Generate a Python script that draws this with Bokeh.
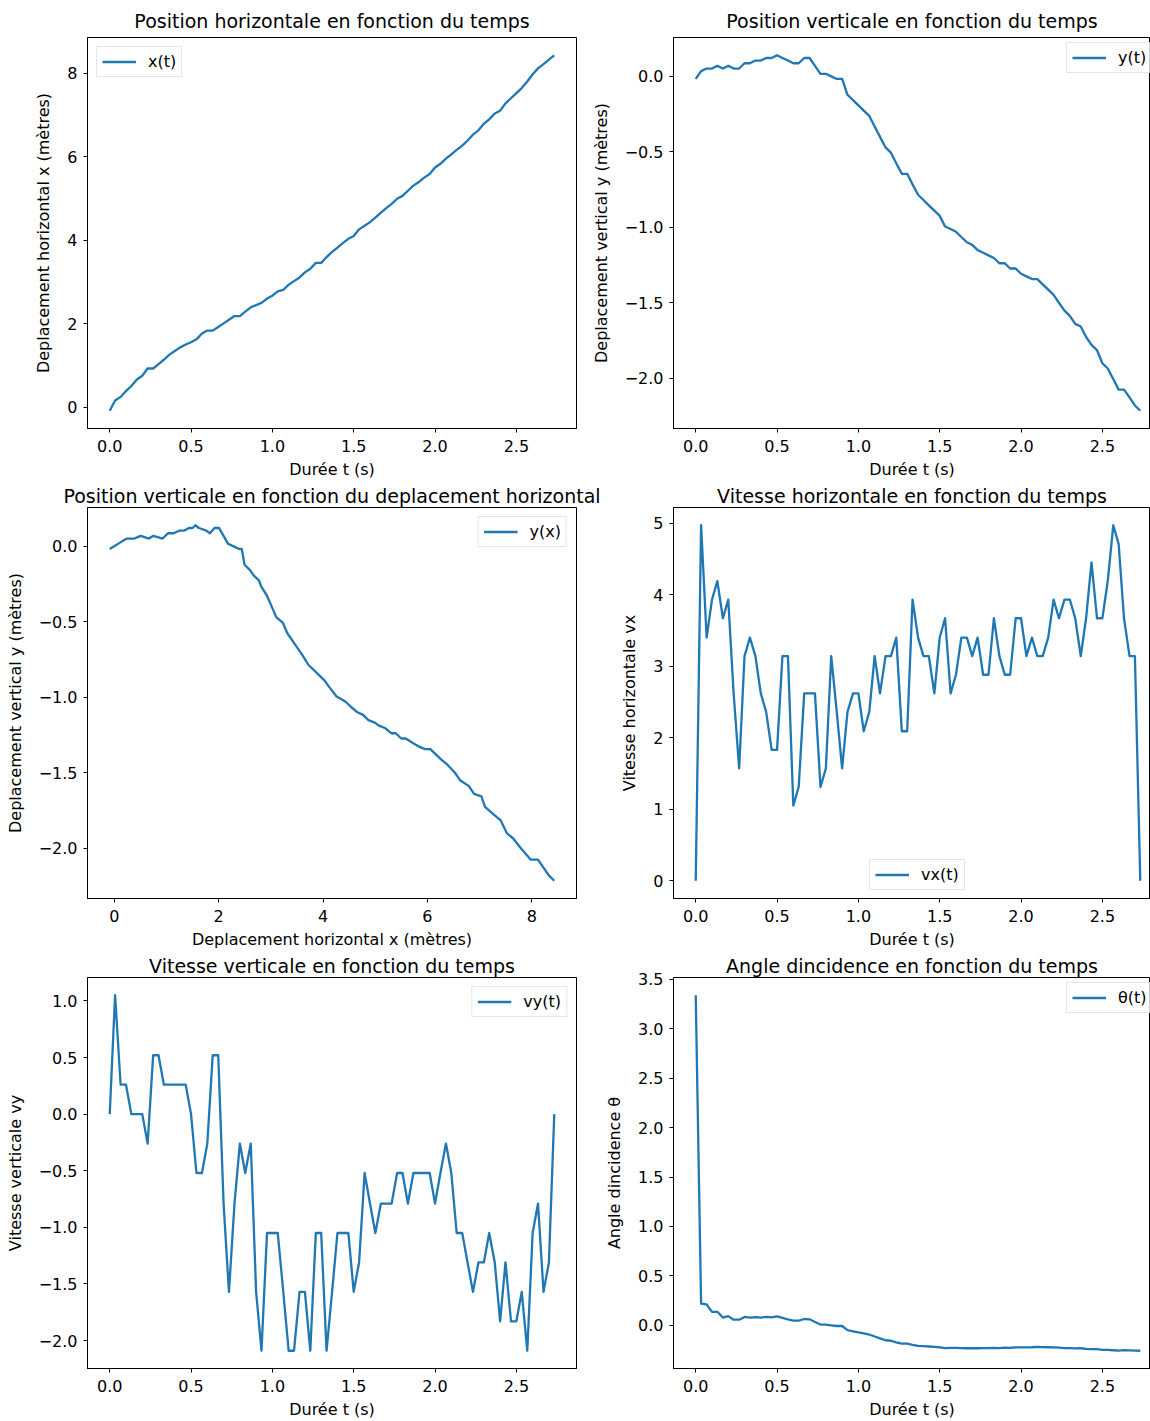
from bokeh.plotting import figure
from bokeh.layouts import column, row
from bokeh.models import Range1d, FixedTicker, CustomJSTickFormatter
from bokeh.embed import file_html
from bokeh.resources import INLINE

# ---------------- data ----------------
t = [0.000, 0.033, 0.067, 0.100, 0.133, 0.167, 0.200, 0.233, 0.267, 0.300,
     0.333, 0.367, 0.400, 0.433, 0.467, 0.500, 0.533, 0.567, 0.600, 0.633,
     0.667, 0.700, 0.733, 0.767, 0.800, 0.833, 0.867, 0.900, 0.933, 0.967,
     1.000, 1.033, 1.067, 1.100, 1.133, 1.167, 1.200, 1.233, 1.267, 1.300,
     1.333, 1.367, 1.400, 1.433, 1.467, 1.500, 1.533, 1.567, 1.600, 1.633,
     1.667, 1.700, 1.733, 1.767, 1.800, 1.833, 1.867, 1.900, 1.933, 1.967,
     2.000, 2.033, 2.067, 2.100, 2.133, 2.167, 2.200, 2.233, 2.267, 2.300,
     2.333, 2.367, 2.400, 2.433, 2.467, 2.500, 2.533, 2.567, 2.600, 2.633,
     2.667, 2.700, 2.733]

x = [-0.087, 0.157, 0.244, 0.384, 0.506, 0.663, 0.750, 0.925, 0.925, 1.030,
     1.134, 1.257, 1.344, 1.431, 1.501, 1.553, 1.623, 1.763, 1.833, 1.833,
     1.920, 2.007, 2.094, 2.182, 2.182, 2.286, 2.391, 2.443, 2.496, 2.601,
     2.670, 2.775, 2.810, 2.932, 3.019, 3.107, 3.229, 3.316, 3.456, 3.456,
     3.595, 3.718, 3.822, 3.927, 4.032, 4.102, 4.259, 4.346, 4.433, 4.538,
     4.660, 4.765, 4.869, 4.992, 5.061, 5.184, 5.306, 5.393, 5.498, 5.585,
     5.742, 5.829, 5.952, 6.056, 6.161, 6.266, 6.388, 6.527, 6.632, 6.789,
     6.894, 7.034, 7.103, 7.278, 7.400, 7.522, 7.644, 7.802, 7.976, 8.116,
     8.220, 8.325, 8.430]

y = [-0.017, 0.035, 0.052, 0.052, 0.070, 0.052, 0.070, 0.052, 0.052, 0.087,
     0.087, 0.105, 0.105, 0.122, 0.122, 0.140, 0.122, 0.105, 0.087, 0.087,
     0.122, 0.122, 0.070, 0.017, 0.017, 0.000, -0.017, -0.017, -0.122, -0.157,
     -0.192, -0.227, -0.262, -0.332, -0.401, -0.471, -0.506, -0.576, -0.646, -0.646,
     -0.716, -0.785, -0.820, -0.855, -0.890, -0.925, -0.995, -1.012, -1.030, -1.065,
     -1.100, -1.117, -1.152, -1.169, -1.187, -1.204, -1.239, -1.239, -1.274, -1.274,
     -1.309, -1.326, -1.344, -1.344, -1.379, -1.414, -1.449, -1.501, -1.553, -1.588,
     -1.641, -1.658, -1.728, -1.780, -1.815, -1.902, -1.937, -2.007, -2.077, -2.077,
     -2.129, -2.182, -2.217]

vx = [0.00, 4.97, 3.40, 3.93, 4.19, 3.67, 3.93, 2.62, 1.57, 3.14,
      3.40, 3.14, 2.62, 2.36, 1.83, 1.83, 3.14, 3.14, 1.05, 1.31,
      2.62, 2.62, 2.62, 1.31, 1.57, 3.14, 2.36, 1.57, 2.36, 2.62,
      2.62, 2.09, 2.36, 3.14, 2.62, 3.14, 3.14, 3.40, 2.09, 2.09,
      3.93, 3.40, 3.14, 3.14, 2.62, 3.40, 3.67, 2.62, 2.88, 3.40,
      3.40, 3.14, 3.40, 2.88, 2.88, 3.67, 3.14, 2.88, 2.88, 3.67,
      3.67, 3.14, 3.40, 3.14, 3.14, 3.40, 3.93, 3.67, 3.93, 3.93,
      3.67, 3.14, 3.67, 4.45, 3.67, 3.67, 4.19, 4.97, 4.71, 3.67,
      3.14, 3.14, 0.00]

vy = [0.00, 1.05, 0.26, 0.26, 0.00, 0.00, 0.00, -0.26, 0.52, 0.52,
      0.26, 0.26, 0.26, 0.26, 0.26, 0.00, -0.52, -0.52, -0.26, 0.52,
      0.52, -0.79, -1.57, -0.79, -0.26, -0.52, -0.26, -1.57, -2.09, -1.05,
      -1.05, -1.05, -1.57, -2.09, -2.09, -1.57, -1.57, -2.09, -1.05, -1.05,
      -2.09, -1.57, -1.05, -1.05, -1.05, -1.57, -1.31, -0.52, -0.79, -1.05,
      -0.79, -0.79, -0.79, -0.52, -0.52, -0.79, -0.52, -0.52, -0.52, -0.52,
      -0.79, -0.52, -0.26, -0.52, -1.05, -1.05, -1.31, -1.57, -1.31, -1.31,
      -1.05, -1.31, -1.83, -1.31, -1.83, -1.83, -1.57, -2.09, -1.05, -0.79,
      -1.57, -1.31, 0.00]

theta = [3.339, 0.219, 0.211, 0.136, 0.137, 0.079, 0.093, 0.057, 0.057, 0.085,
         0.077, 0.083, 0.078, 0.085, 0.081, 0.090, 0.075, 0.059, 0.048, 0.048,
         0.064, 0.061, 0.033, 0.008, 0.008, 0.000, -0.007, -0.007, -0.049, -0.060,
         -0.072, -0.082, -0.093, -0.113, -0.132, -0.151, -0.156, -0.172, -0.185, -0.185,
         -0.197, -0.208, -0.211, -0.214, -0.217, -0.222, -0.230, -0.229, -0.228, -0.231,
         -0.232, -0.230, -0.232, -0.230, -0.230, -0.228, -0.230, -0.226, -0.228, -0.224,
         -0.224, -0.224, -0.222, -0.218, -0.220, -0.222, -0.223, -0.226, -0.230, -0.230,
         -0.234, -0.232, -0.239, -0.240, -0.241, -0.248, -0.248, -0.252, -0.255, -0.251,
         -0.254, -0.256, -0.257]

t_ticks = [0.0, 0.5, 1.0, 1.5, 2.0, 2.5]
x_ticks = [0, 2, 4, 6, 8]
y_ticks = [-2.0, -1.5, -1.0, -0.5, 0.0]
vx_ticks = [0, 1, 2, 3, 4, 5]
vy_ticks = [-2.0, -1.5, -1.0, -0.5, 0.0, 0.5, 1.0]
theta_ticks = [0.0, 0.5, 1.0, 1.5, 2.0, 2.5, 3.0, 3.5]

# ---------------- styling helpers ----------------
BLUE = "#1f77b4"
FONT = "DejaVu Sans"
FRAME_W = 489


def padded(vals, frac=0.05):
    lo, hi = min(vals), max(vals)
    d = (hi - lo) * frac
    return lo - d, hi + d


def cut(rng, frac):
    lo, hi = rng
    return lo, lo + (hi - lo) * frac


def fmt(d):
    return CustomJSTickFormatter(
        code="return tick.toFixed(%d).replace('-', '\\u2212');" % d)


def panel(title, w, h, bl, br, bt, bb, xr, yr, title_standoff):
    p = figure(width=w, height=h, x_range=Range1d(*xr), y_range=Range1d(*yr),
               output_backend="svg", toolbar_location=None,
               min_border_left=bl, min_border_right=br,
               min_border_top=bt, min_border_bottom=bb,
               background_fill_color="white", border_fill_color="white")
    p.title.text = title
    p.title.align = "center"
    p.title.text_font = FONT
    p.title.text_font_size = "19px"
    p.title.text_font_style = "normal"
    p.title.text_color = "black"
    p.title.standoff = title_standoff
    p.xgrid.visible = False
    p.ygrid.visible = False
    p.outline_line_color = "black"
    p.outline_line_width = 1
    p.outline_line_alpha = 1
    for ax in p.axis:
        ax.axis_line_color = "black"
        ax.axis_line_width = 1
        ax.major_tick_line_color = "black"
        ax.major_tick_in = 0
        ax.major_tick_out = 4
        ax.minor_tick_line_color = None
        ax.major_label_text_font = FONT
        ax.major_label_text_font_size = "16px"
        ax.major_label_text_color = "black"
        ax.axis_label_text_font = FONT
        ax.axis_label_text_font_size = "16px"
        ax.axis_label_text_font_style = "normal"
        ax.axis_label_text_color = "black"
    p.xaxis.major_label_standoff = 7
    p.xaxis.axis_label_standoff = 5
    p.yaxis.major_label_standoff = 6
    p.yaxis.axis_label_standoff = 11
    return p


def axes(p, xlabel, xt, xd, ylabel, yt, yd):
    p.xaxis.axis_label = xlabel
    p.xaxis.ticker = FixedTicker(ticks=xt)
    p.xaxis.formatter = fmt(xd)
    p.yaxis.axis_label = ylabel
    p.yaxis.ticker = FixedTicker(ticks=yt)
    p.yaxis.formatter = fmt(yd)


def curve(p, xs, ys, label, loc):
    p.line(xs, ys, line_color=BLUE, line_width=2.3, line_join="round",
           legend_label=label)
    lg = p.legend[0]
    lg.location = loc
    lg.label_text_font = FONT
    lg.label_text_font_size = "16px"
    lg.label_text_color = "black"
    lg.glyph_width = 34
    lg.glyph_height = 17
    lg.label_height = 17
    lg.label_standoff = 12
    lg.padding = 5
    lg.spacing = 0
    lg.margin = 9
    lg.border_line_color = "#cccccc"
    lg.border_line_width = 1
    lg.background_fill_color = "white"
    lg.background_fill_alpha = 0.8


T_RANGE = padded(t)
T_RANGE_R = cut(T_RANGE, 477.0 / FRAME_W)

# ---------------- row 1 ----------------
p1 = panel("Position horizontale en fonction du temps",
           584, 481, 87, 8, 37, 53, T_RANGE, padded(x), 12)
axes(p1, "Durée t (s)", t_ticks, 1, "Deplacement horizontal x (mètres)", x_ticks, 0)
curve(p1, t, x, "x(t)", "top_left")

p2 = panel("Position verticale en fonction du temps",
           566, 481, 89, 0, 37, 53, T_RANGE_R, padded(y), 12)
axes(p2, "Durée t (s)", t_ticks, 1, "Deplacement vertical y (mètres)", y_ticks, 1)
curve(p2, t, y, "y(t)", (393, 355))

# ---------------- row 2 ----------------
p3 = panel("Position verticale en fonction du deplacement horizontal",
           614, 470, 87, 38, 26, 53, padded(x), padded(y), 1)
axes(p3, "Deplacement horizontal x (mètres)", x_ticks, 0,
     "Deplacement vertical y (mètres)", y_ticks, 1)
curve(p3, x, y, "y(x)", "top_right")

p4 = panel("Vitesse horizontale en fonction du temps",
           536, 470, 59, 0, 26, 53, T_RANGE_R, padded(vx), 1)
axes(p4, "Durée t (s)", t_ticks, 1, "Vitesse horizontale vx", vx_ticks, 0)
curve(p4, t, vx, "vx(t)", (196, 8))

# ---------------- row 3 ----------------
p5 = panel("Vitesse verticale en fonction du temps",
           596, 470, 87, 20, 26, 53, T_RANGE, padded(vy), 1)
axes(p5, "Durée t (s)", t_ticks, 1, "Vitesse verticale vy", vy_ticks, 1)
curve(p5, t, vy, "vy(t)", "top_right")

p6 = panel("Angle dincidence en fonction du temps",
           554, 470, 77, 0, 26, 53, T_RANGE_R, padded(theta), 1)
axes(p6, "Durée t (s)", t_ticks, 1, "Angle dincidence θ", theta_ticks, 1)
curve(p6, t, theta, "θ(t)", (393, 355))

layout = column(row(p1, p2), row(p3, p4), row(p5, p6))

open("out.html", "w", encoding="utf-8").write(file_html(layout, INLINE))
